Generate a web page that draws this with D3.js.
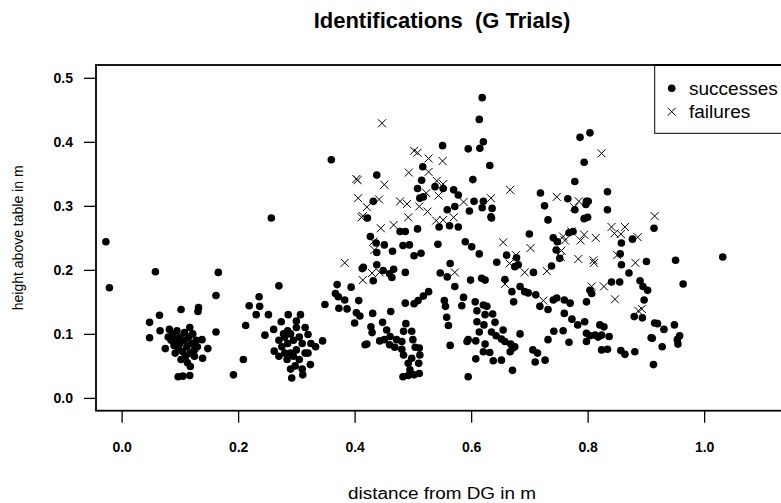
<!DOCTYPE html>
<html>
<head>
<meta charset="utf-8">
<script src="https://cdn.jsdelivr.net/npm/d3@7/dist/d3.min.js"></script>
<style>
  html, body { margin: 0; padding: 0; background: #fff; }
  svg { display: block; }
  text { font-family: "Liberation Sans", Arial, Helvetica, sans-serif; fill: #000; }
</style>
</head>
<body>
<svg id="chart" width="781" height="503"></svg>
<script>
// ---------------- data ----------------
const chartTitle = "Identifications  (G Trials)";
const xLabel = "distance from DG in m";
const yLabel = "height above table in m";
const legendLabels = ["successes", "failures"];
const xTicks = [0.0, 0.2, 0.4, 0.6, 0.8, 1.0];
const yTicks = [0.0, 0.1, 0.2, 0.3, 0.4, 0.5];

// successes: [distance, height]
const successes = [
  [-0.027,0.244],[-0.021,0.172],[0.058,0.197],[0.166,0.196],[0.162,0.160],[0.102,0.138],
  [0.132,0.141],[0.131,0.135],[0.065,0.129],[0.048,0.118],[0.066,0.105],[0.048,0.094],
  [0.162,0.103],[0.192,0.036],[0.097,0.033],[0.105,0.034],[0.117,0.035],[0.118,0.049],
  [0.138,0.091],[0.148,0.077],[0.139,0.062],[0.117,0.110],[0.082,0.107],[0.075,0.077],
  [0.088,0.100],[0.095,0.092],[0.100,0.085],[0.108,0.090],[0.112,0.080],[0.105,0.072],
  [0.098,0.078],[0.090,0.082],[0.115,0.095],[0.120,0.085],[0.125,0.075],[0.110,0.065],
  [0.102,0.060],[0.118,0.070],[0.128,0.090],[0.085,0.090],[0.092,0.070],[0.130,0.080],
  [0.108,0.102],[0.122,0.100],[0.080,0.095],[0.113,0.055],[0.100,0.095],[0.095,0.105],
  [0.125,0.065],
  [0.257,0.281],[0.270,0.175],[0.236,0.158],[0.219,0.144],[0.237,0.143],[0.231,0.130],
  [0.252,0.130],[0.213,0.113],[0.246,0.098],[0.209,0.060],[0.286,0.130],[0.307,0.130],
  [0.274,0.119],[0.261,0.107],[0.345,0.089],[0.333,0.080],[0.320,0.099],[0.292,0.031],
  [0.311,0.036],[0.324,0.052],[0.262,0.073],[0.284,0.060],[0.280,0.095],[0.290,0.100],
  [0.300,0.110],[0.295,0.090],[0.285,0.085],[0.275,0.080],[0.270,0.090],[0.305,0.095],
  [0.310,0.085],[0.300,0.075],[0.290,0.070],[0.280,0.070],[0.315,0.070],[0.305,0.060],
  [0.298,0.050],[0.290,0.045],[0.310,0.045],[0.320,0.070],[0.270,0.065],[0.285,0.105],
  [0.315,0.110],[0.300,0.120],[0.325,0.085],[0.295,0.065],[0.278,0.100],
  [0.349,0.146],[0.370,0.177],[0.394,0.173],[0.367,0.163],[0.372,0.158],[0.383,0.153],
  [0.373,0.140],[0.387,0.139],[0.407,0.152],[0.403,0.133],[0.409,0.128],[0.400,0.117],
  [0.413,0.202],[0.418,0.083],[0.360,0.372],
  [0.551,0.394],[0.438,0.348],[0.517,0.361],[0.515,0.340],[0.508,0.327],[0.512,0.312],
  [0.518,0.314],[0.538,0.330],[0.552,0.327],[0.570,0.325],[0.578,0.317],[0.559,0.294],
  [0.572,0.299],[0.432,0.307],[0.422,0.281],[0.545,0.267],[0.563,0.269],[0.578,0.267],
  [0.508,0.264],[0.478,0.260],[0.487,0.260],[0.427,0.252],[0.437,0.242],[0.451,0.239],
  [0.438,0.227],[0.465,0.229],[0.483,0.238],[0.494,0.239],[0.502,0.222],[0.514,0.226],
  [0.543,0.240],[0.564,0.210],[0.415,0.204],[0.438,0.208],[0.449,0.199],[0.460,0.194],
  [0.467,0.201],[0.464,0.188],[0.432,0.183],[0.487,0.196],[0.547,0.195],[0.559,0.189],
  [0.572,0.174],[0.527,0.166],[0.518,0.159],[0.509,0.152],[0.502,0.147],[0.487,0.148],
  [0.462,0.135],[0.554,0.152],[0.556,0.143],[0.558,0.126],[0.561,0.113],[0.431,0.132],
  [0.428,0.111],[0.430,0.102],[0.448,0.118],[0.455,0.106],[0.451,0.091],[0.443,0.089],
  [0.421,0.084],[0.460,0.083],[0.461,0.096],[0.469,0.079],[0.472,0.091],[0.484,0.104],
  [0.488,0.116],[0.481,0.088],[0.481,0.076],[0.484,0.067],[0.498,0.104],[0.500,0.091],
  [0.504,0.079],[0.511,0.078],[0.512,0.067],[0.510,0.054],[0.498,0.062],[0.492,0.054],
  [0.495,0.044],[0.564,0.082],[0.483,0.033],[0.492,0.035],[0.502,0.036],[0.511,0.038],
  [0.619,0.469],[0.614,0.435],[0.621,0.400],[0.615,0.390],[0.595,0.389],[0.632,0.363],
  [0.603,0.341],[0.597,0.292],[0.605,0.307],[0.621,0.307],[0.619,0.297],[0.636,0.296],
  [0.634,0.283],[0.635,0.281],[0.590,0.244],[0.601,0.236],[0.614,0.225],[0.644,0.212],
  [0.661,0.223],[0.678,0.219],[0.675,0.205],[0.681,0.208],[0.700,0.256],[0.719,0.320],
  [0.726,0.300],[0.732,0.278],[0.741,0.250],[0.748,0.244],[0.746,0.231],[0.738,0.206],
  [0.707,0.196],[0.658,0.185],[0.599,0.184],[0.618,0.187],[0.624,0.184],[0.587,0.157],
  [0.584,0.144],[0.607,0.150],[0.610,0.136],[0.610,0.119],[0.614,0.103],[0.608,0.089],
  [0.595,0.091],[0.593,0.088],[0.621,0.145],[0.627,0.143],[0.624,0.130],[0.637,0.131],
  [0.641,0.118],[0.622,0.114],[0.635,0.103],[0.643,0.097],[0.652,0.092],[0.655,0.106],
  [0.658,0.088],[0.668,0.084],[0.672,0.078],[0.675,0.080],[0.667,0.072],[0.624,0.084],
  [0.621,0.072],[0.632,0.071],[0.608,0.061],[0.638,0.058],[0.652,0.059],[0.671,0.043],
  [0.595,0.033],[0.684,0.100],[0.706,0.075],[0.714,0.070],[0.710,0.056],[0.727,0.059],
  [0.732,0.091],[0.742,0.104],[0.670,0.166],[0.673,0.150],[0.684,0.174],[0.692,0.166],
  [0.698,0.164],[0.711,0.161],[0.718,0.143],[0.732,0.138],[0.741,0.153],[0.747,0.156],
  [0.752,0.218],
  [0.787,0.407],[0.804,0.414],[0.794,0.368],[0.778,0.338],[0.834,0.322],[0.834,0.294],
  [0.766,0.311],[0.798,0.307],[0.801,0.307],[0.797,0.302],[0.778,0.294],[0.794,0.280],
  [0.800,0.282],[0.768,0.258],[0.775,0.260],[0.858,0.242],[0.877,0.248],[0.856,0.225],
  [0.858,0.208],[0.871,0.195],[0.901,0.213],[0.841,0.181],[0.855,0.181],[0.890,0.183],
  [0.895,0.174],[0.903,0.168],[0.804,0.168],[0.807,0.163],[0.798,0.150],[0.760,0.153],
  [0.770,0.148],[0.897,0.153],[0.880,0.127],[0.894,0.125],[0.760,0.132],[0.773,0.123],
  [0.783,0.114],[0.795,0.119],[0.758,0.105],[0.768,0.087],[0.798,0.101],[0.804,0.097],
  [0.813,0.098],[0.821,0.114],[0.828,0.111],[0.824,0.098],[0.837,0.096],[0.798,0.088],
  [0.818,0.095],[0.824,0.075],[0.834,0.076],[0.857,0.074],[0.864,0.068],[0.881,0.072],
  [0.911,0.093],[0.915,0.117],[0.914,0.265],[0.913,0.052],
  [0.951,0.215],[1.032,0.220],[0.964,0.178],[0.920,0.116],[0.931,0.107],[0.949,0.114],
  [0.909,0.094],[0.928,0.080],[0.958,0.097],[0.954,0.091],[0.955,0.084]
];

// failures: [distance, height]
const failures = [
  [0.383,0.211],
  [0.447,0.429],[0.502,0.386],[0.508,0.383],[0.527,0.374],[0.551,0.370],[0.493,0.352],
  [0.527,0.353],[0.403,0.342],[0.405,0.340],[0.451,0.333],[0.541,0.339],[0.552,0.334],
  [0.523,0.320],[0.544,0.316],[0.406,0.312],[0.421,0.298],[0.442,0.310],[0.478,0.307],
  [0.490,0.303],[0.511,0.299],[0.525,0.291],[0.492,0.282],[0.414,0.284],[0.412,0.282],
  [0.540,0.277],[0.552,0.278],[0.570,0.282],[0.445,0.265],[0.467,0.270],[0.432,0.244],
  [0.434,0.231],[0.430,0.195],[0.443,0.196],[0.414,0.184],[0.572,0.196],
  [0.667,0.325],[0.634,0.312],[0.587,0.306],[0.747,0.314],[0.655,0.243],[0.702,0.234],
  [0.677,0.223],[0.666,0.210],[0.692,0.196],[0.730,0.198],[0.658,0.178],[0.724,0.152],
  [0.824,0.382],[0.785,0.307],[0.777,0.298],[0.772,0.260],[0.758,0.252],[0.761,0.246],
  [0.794,0.255],[0.788,0.246],[0.814,0.250],[0.841,0.267],[0.864,0.267],[0.846,0.257],
  [0.857,0.256],[0.886,0.251],[0.755,0.230],[0.754,0.220],[0.784,0.217],[0.810,0.215],
  [0.811,0.211],[0.851,0.223],[0.882,0.211],[0.807,0.174],[0.828,0.174],[0.847,0.154],
  [0.887,0.136],[0.893,0.139],[0.915,0.284]
];

// ---------------- drawing ----------------
const svg = d3.select("#chart");
const plot = { left: 96, right: 788, top: 65, bottom: 410.7 };

const x = d3.scaleLinear().domain([-0.044, 1.144]).range([plot.left, plot.right]);
const y = d3.scaleLinear().domain([-0.02, 0.52]).range([plot.bottom, plot.top]);

const fmt = d3.format(".1f");

// x axis
const gx = svg.append("g")
  .attr("transform", `translate(0,${plot.bottom})`)
  .call(d3.axisBottom(x).tickValues(xTicks).tickFormat(fmt).tickSize(12).tickPadding(19));
gx.select(".domain").remove();
gx.selectAll(".tick line").attr("stroke", "#000").attr("stroke-width", 1.3);
gx.selectAll(".tick text").attr("font-size", 14).attr("font-weight", "bold")
  .attr("font-family", "Liberation Sans, Arial, sans-serif");

// y axis
const gy = svg.append("g")
  .attr("transform", `translate(${plot.left},0)`)
  .call(d3.axisLeft(y).tickValues(yTicks).tickFormat(fmt).tickSize(12).tickPadding(11));
gy.select(".domain").remove();
gy.selectAll(".tick line").attr("stroke", "#000").attr("stroke-width", 1.3);
gy.selectAll(".tick text").attr("font-size", 14).attr("font-weight", "bold")
  .attr("font-family", "Liberation Sans, Arial, sans-serif");

// points
const pts = svg.append("g");
pts.selectAll("circle.s").data(successes).enter().append("circle")
  .attr("class", "s")
  .attr("cx", d => x(d[0])).attr("cy", d => y(d[1])).attr("r", 3.8)
  .attr("fill", "#000");

const cs = 4;
const fail = pts.selectAll("g.f").data(failures).enter().append("g")
  .attr("class", "f")
  .attr("transform", d => `translate(${x(d[0])},${y(d[1])})`);
fail.append("path")
  .attr("d", `M${-cs},${-cs}L${cs},${cs}M${-cs},${cs}L${cs},${-cs}`)
  .attr("stroke", "#000").attr("stroke-width", 1).attr("fill", "none");

// plot box
svg.append("rect")
  .attr("x", plot.left).attr("y", plot.top)
  .attr("width", plot.right - plot.left).attr("height", plot.bottom - plot.top)
  .attr("fill", "none").attr("stroke", "#000").attr("stroke-width", 1.8);

// legend
const lg = svg.append("g");
lg.append("rect")
  .attr("x", 654.7).attr("y", plot.top).attr("width", 200).attr("height", 68.3)
  .attr("fill", "#fff").attr("stroke", "#000").attr("stroke-width", 1);
lg.append("line").attr("x1", 654.7).attr("x2", 854.7).attr("y1", plot.top).attr("y2", plot.top)
  .attr("stroke", "#000").attr("stroke-width", 1.8);
lg.append("circle").attr("cx", 671.7).attr("cy", 88.3).attr("r", 3.8).attr("fill", "#000");
lg.append("path")
  .attr("d", `M${671.7-cs},${111.7-cs}L${671.7+cs},${111.7+cs}M${671.7-cs},${111.7+cs}L${671.7+cs},${111.7-cs}`)
  .attr("stroke", "#000").attr("stroke-width", 1).attr("fill", "none");
lg.append("text").attr("x", 689).attr("y", 95).attr("font-size", 19).text(legendLabels[0]);
lg.append("text").attr("x", 689).attr("y", 118.3).attr("font-size", 19).text(legendLabels[1]);

// title
svg.append("text")
  .attr("x", (plot.left + plot.right) / 2).attr("y", 28)
  .attr("text-anchor", "middle").attr("font-size", 22).attr("font-weight", "bold")
  .style("white-space", "pre")
  .text(chartTitle);

// axis labels
svg.append("text")
  .attr("x", (plot.left + plot.right) / 2).attr("y", 498.5)
  .attr("text-anchor", "middle").attr("font-size", 16)
  .attr("textLength", 188).attr("lengthAdjust", "spacingAndGlyphs")
  .text(xLabel);

svg.append("text")
  .attr("transform", `translate(23,${(plot.top + plot.bottom) / 2}) rotate(-90)`)
  .attr("text-anchor", "middle").attr("font-size", 14)
  .text(yLabel);
</script>
</body>
</html>
